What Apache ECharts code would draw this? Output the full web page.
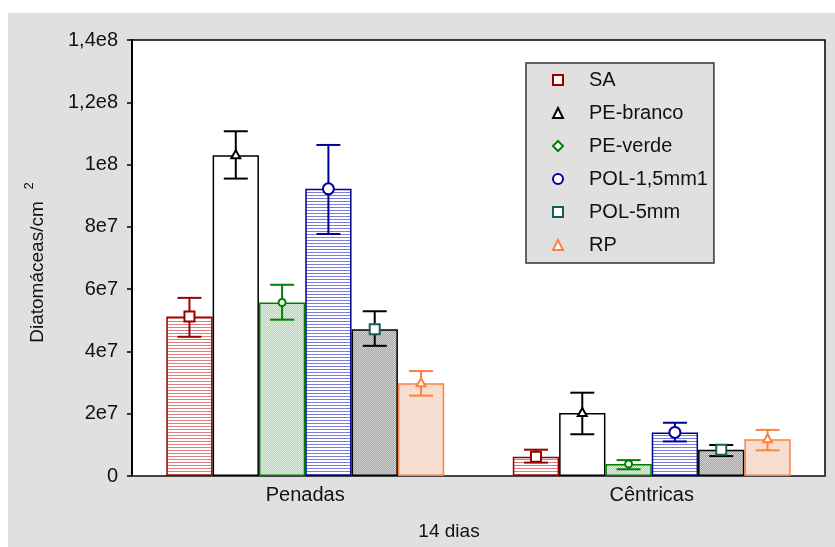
<!DOCTYPE html>
<html><head><meta charset="utf-8">
<script src="https://cdn.jsdelivr.net/npm/echarts@6/dist/echarts.min.js"></script>
<style>html,body{margin:0;padding:0;background:#fff}#c{width:835px;height:547px}</style>
</head><body><div id="c"></div>
<script>
// ---- data ----
const categories = ['Penadas', 'Cêntricas'];
const seriesNames = ['SA', 'PE-branco', 'PE-verde', 'POL-1,5mm1', 'POL-5mm', 'RP'];
const meanSA    = [5.12e7, 6.2e6];
const meanPEb   = [1.030e8, 2.02e7];
const meanPEv   = [5.57e7, 3.85e6];
const meanPOL15 = [9.22e7, 1.40e7];
const meanPOL5  = [4.71e7, 8.45e6];
const meanRP    = [2.98e7, 1.18e7];
const hiSA    = [5.72e7, 8.45e6],  loSA    = [4.47e7, 4.3e6];
const hiPEb   = [1.107e8, 2.675e7], loPEb  = [9.55e7, 1.34e7];
const hiPEv   = [6.14e7, 5.1e6],   loPEv   = [5.02e7, 2.15e6];
const hiPOL15 = [1.063e8, 1.71e7], loPOL15 = [7.77e7, 1.11e7];
const hiPOL5  = [5.29e7, 9.95e6],  loPOL5  = [4.18e7, 6.4e6];
const hiRP    = [3.37e7, 1.48e7],  loRP    = [2.58e7, 8.25e6];
const yTickLabels = ['0', '2e7', '4e7', '6e7', '8e7', '1e8', '1,2e8', '1,4e8'];
const yAxisTitle = 'Diatomáceas/cm';
const yAxisSup = '2';
const xAxisTitle = '14 dias';

const means = [meanSA, meanPEb, meanPEv, meanPOL15, meanPOL5, meanRP];
const his = [hiSA, hiPEb, hiPEv, hiPOL15, hiPOL5, hiRP];
const los = [loSA, loPEb, loPEv, loPOL15, loPOL5, loRP];

// ---- styles ----
function linePattern(fg, bg) {
  const c = document.createElement('canvas'); c.width = 4; c.height = 3;
  const g = c.getContext('2d'); g.fillStyle = bg; g.fillRect(0, 0, 4, 3);
  g.fillStyle = fg; g.fillRect(0, 0, 4, 1); return {image: c, repeat: 'repeat'};
}
function checkPattern(a, b) {
  const c = document.createElement('canvas'); c.width = 2; c.height = 2;
  const g = c.getContext('2d'); g.fillStyle = a; g.fillRect(0, 0, 2, 2);
  g.fillStyle = b; g.fillRect(1, 0, 1, 1); g.fillRect(0, 1, 1, 1); return {image: c, repeat: 'repeat'};
}
const borderCols = ['#990000', '#000000', '#008000', '#000099', '#000000', '#ff8040'];
const errCols    = ['#990000', '#000000', '#008000', '#000099', '#000000', '#ff8040'];
const markCols   = ['#990000', '#000000', '#008000', '#000099', '#1a5c5c', '#ff8040'];
const fills = [
  linePattern('#dc7c7c', '#ffffff'),
  '#ffffff',
  checkPattern('#e2f2e2', '#aad6aa'),
  linePattern('#7c7ce0', '#ffffff'),
  checkPattern('#d4d4d4', '#a4a4a4'),
  checkPattern('#ffe6d8', '#ffd0b8')
];
const icons = ['rect', 'triangle', 'diamond', 'circle', 'rect', 'triangle'];
const CAT_GAP = 0.198;

function drawMarker(kind, cx, cy, col) {
  const st = {fill: '#fff', stroke: col, lineWidth: 2};
  if (kind === 'rect') return {type: 'rect', shape: {x: cx - 5, y: cy - 5, width: 10, height: 10}, style: st};
  if (kind === 'circle') return {type: 'circle', shape: {cx: cx, cy: cy, r: 5.5}, style: st};
  if (kind === 'diamond') return {type: 'circle', shape: {cx: cx, cy: cy, r: 3.5}, style: st};
  return {type: 'polygon', shape: {points: [[cx, cy - 5], [cx + 4.5, cy + 3], [cx - 4.5, cy + 3]]}, style: st};
}

const series = [];
seriesNames.forEach((n, i) => {
  series.push({
    type: 'bar', name: n, barGap: '0%', barCategoryGap: (CAT_GAP * 100) + '%',
    itemStyle: {color: fills[i], borderColor: borderCols[i], borderWidth: 1.5},
    emphasis: {disabled: true},
    data: means[i]
  });
});
seriesNames.forEach((n, i) => {
  series.push({
    type: 'custom', name: n, z: 10,
    renderItem: function (params, api) {
      const x = api.value(0);
      const band = api.size([1, 0])[0];
      const bw = band * (1 - CAT_GAP) / 6;
      const off = (i - 2.5) * bw;
      const pm = api.coord([x, api.value(1)]);
      const ph = api.coord([x, api.value(3)]);
      const pl = api.coord([x, api.value(2)]);
      const cx = pm[0] + off, cap = 12;
      const ls = {stroke: errCols[i], lineWidth: 2};
      return {type: 'group', children: [
        {type: 'line', shape: {x1: cx, y1: ph[1], x2: cx, y2: pl[1]}, style: ls},
        {type: 'line', shape: {x1: cx - cap, y1: ph[1], x2: cx + cap, y2: ph[1]}, style: ls},
        {type: 'line', shape: {x1: cx - cap, y1: pl[1], x2: cx + cap, y2: pl[1]}, style: ls},
        drawMarker(icons[i], cx, pm[1], markCols[i])
      ]};
    },
    data: categories.map((c, k) => [k, means[i][k], los[i][k], his[i][k]])
  });
});

const chart = echarts.init(document.getElementById('c'), null, {renderer: 'canvas'});
const FONT = 'Liberation Sans';
chart.setOption({
  animation: false,
  backgroundColor: '#ffffff',
  textStyle: {fontFamily: FONT},
  graphic: [
    {type: 'rect', z: -10, silent: true, shape: {x: 8, y: 13, width: 827, height: 534}, style: {fill: '#e0e0e0'}},
    {type: 'text', z: 10, x: 449, y: 532, style: {text: xAxisTitle, font: '19px ' + FONT, fill: '#111', align: 'center', verticalAlign: 'middle'}},
    {type: 'text', z: 10, x: 38, y: 272, rotation: Math.PI / 2, style: {text: yAxisTitle, font: '19px ' + FONT, fill: '#111', align: 'center', verticalAlign: 'middle'}},
    {type: 'text', z: 10, x: 29, y: 186, rotation: Math.PI / 2, style: {text: yAxisSup, font: '13px ' + FONT, fill: '#111', align: 'center', verticalAlign: 'middle'}}
  ],
  legend: {
    orient: 'vertical', left: 526, top: 63,
    padding: [7, 6, 8, 26], itemGap: 13, itemWidth: 10, itemHeight: 10,
    backgroundColor: '#e0e0e0', borderColor: '#333', borderWidth: 1.5,
    textStyle: {fontSize: 20, color: '#111', lineHeight: 20, padding: [0, 0, 0, 21]},
    selectedMode: false,
    data: seriesNames.map((n, i) => ({name: n, icon: icons[i], itemStyle: {color: '#fff', borderColor: markCols[i], borderWidth: 2}}))
  },
  grid: {left: 132, top: 40, right: 10, bottom: 71, show: true, backgroundColor: '#ffffff', borderColor: '#000', borderWidth: 1.5},
  xAxis: {
    type: 'category', data: categories,
    axisLine: {lineStyle: {color: '#444', width: 2}},
    axisTick: {show: false},
    axisLabel: {fontSize: 20, color: '#111', margin: 9}
  },
  yAxis: {
    type: 'value', min: 0, max: 1.4e8, interval: 2e7,
    splitLine: {show: false},
    axisLine: {show: true, lineStyle: {color: '#000', width: 2}},
    axisTick: {show: true, length: 5, lineStyle: {color: '#000', width: 1.5}},
    axisLabel: {fontSize: 20, color: '#111', margin: 14, formatter: v => yTickLabels[Math.round(v / 2e7)]}
  },
  series: series
});
</script></body></html>
